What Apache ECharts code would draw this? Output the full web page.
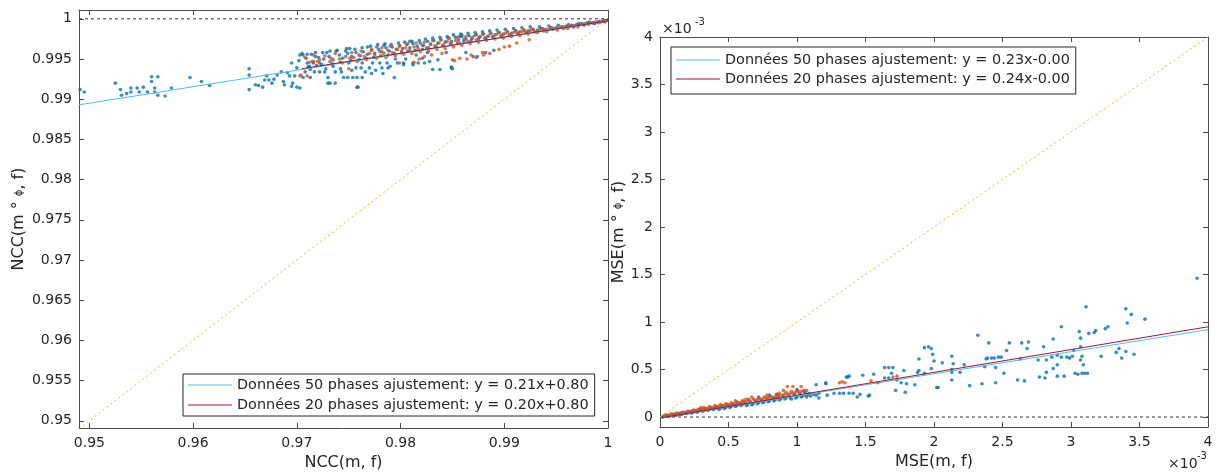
<!DOCTYPE html>
<html>
<head>
<meta charset="utf-8">
<script src="https://cdn.jsdelivr.net/npm/echarts@6/dist/echarts.min.js"></script>
<style>html,body{margin:0;padding:0;background:#fff}#c{width:1220px;height:472px}</style>
</head>
<body>
<div id="c"></div>
<script>
// ---------------- DATA ----------------
// Left panel: NCC(m, f) vs NCC(m ∘ φ, f)
const nccTicksX = [0.95, 0.96, 0.97, 0.98, 0.99, 1];
const nccTicksY = [0.95, 0.955, 0.96, 0.965, 0.97, 0.975, 0.98, 0.985, 0.99, 0.995, 1];
const ncc50 = [
[0.9491,0.9912],[0.9495,0.9909],[0.9525,0.9920],[0.9530,0.9912],[0.9531,0.9905],[0.9536,0.9907],[0.9540,0.9914],[0.9540,0.9909],[0.9546,0.9914],[0.9548,0.9909],[0.9552,0.9915],[0.9556,0.9909],[0.9560,0.9928],[0.9560,0.9922],[0.9563,0.9914],[0.9563,0.9909],[0.9566,0.9928],[0.9566,0.9905],[0.9573,0.9904],[0.9579,0.9914],[0.9597,0.9927],[0.9608,0.9922],[0.9616,0.9917],
[0.9654,0.9938],[0.9654,0.9930],[0.9654,0.9912],[0.9660,0.9918],[0.9663,0.9917],[0.9667,0.9915],[0.9669,0.9924],[0.9671,0.9929],[0.9673,0.9924],[0.9676,0.9920],[0.9678,0.9925],[0.9681,0.9930],[0.9685,0.9934],[0.9687,0.9922],[0.9688,0.9918],[0.9691,0.9933],[0.9693,0.9929],[0.9695,0.9945],[0.9696,0.9920],[0.9698,0.9929],[0.9700,0.9939],[0.9703,0.9955],[0.9703,0.9914],[0.9706,0.9955],[0.9710,0.9956],[0.9713,0.9937],[0.9714,0.9956],[0.9718,0.9958],
[0.9710,0.9945],[0.9716,0.9945],[0.9722,0.9945],[0.9725,0.9958],[0.9732,0.9960],[0.9738,0.9960],[0.9748,0.9963],[0.9751,0.9963],
[0.9708,0.9934],[0.9717,0.9934],[0.9722,0.9934],[0.9727,0.9934],[0.9737,0.9934],[0.9743,0.9934],
[0.9706,0.9927],[0.9713,0.9927],[0.9730,0.9927],[0.9745,0.9927],[0.9749,0.9927],[0.9754,0.9927],[0.9758,0.9927],[0.9763,0.9927],
[0.9730,0.9920],[0.9737,0.9920],[0.9695,0.9916],[0.9700,0.9915],[0.9759,0.9915],[0.9794,0.9927],
[0.9768,0.9965],[0.9778,0.9968],[0.9785,0.9969],[0.9809,0.9972],
[0.9750,0.9945],[0.9763,0.9945],[0.9773,0.9945],[0.9780,0.9945],[0.9787,0.9945],[0.9797,0.9945],[0.9803,0.9945],[0.9812,0.9945],[0.9817,0.9945],[0.9823,0.9945],
[0.9757,0.9939],[0.9762,0.9939],[0.9770,0.9939],[0.9782,0.9939],[0.9788,0.9939],
[0.9772,0.9932],[0.9783,0.9932],[0.9803,0.9943],[0.9812,0.9943],
[0.9821,0.9951],[0.9828,0.9947],[0.9831,0.9937],[0.9838,0.9937],[0.9849,0.9940],[0.9850,0.9938],[0.9836,0.9949],[0.9844,0.9958],[0.9863,0.9958],[0.9870,0.9953],[0.9874,0.9953],[0.9882,0.9958],[0.9890,0.9961],[0.9859,0.9980],[0.9857,0.9978],
[0.9732,0.9920],[0.9758,0.9915],[0.9849,0.9939],
[0.9711,0.9940],[0.9719,0.9942],[0.9728,0.9938],[0.9735,0.9941],[0.9742,0.9938],[0.9753,0.9936],[0.9766,0.9934],[0.9776,0.9936],[0.9790,0.9941],[0.9795,0.9950],[0.9805,0.9950],[0.9815,0.9955],[0.9826,0.9958],
[0.9702,0.9948],[0.9709,0.9951],[0.9715,0.9947],[0.9721,0.9952],[0.9726,0.9950],[0.9731,0.9953],[0.9735,0.9949],[0.9741,0.9955],[0.9744,0.9951],[0.9749,0.9957],[0.9753,0.9953],[0.9757,0.9958],[0.9761,0.9954],[0.9764,0.9959],[0.9768,0.9956],[0.9772,0.9961],[0.9775,0.9957],[0.9779,0.9962],[0.9782,0.9959],[0.9786,0.9964],[0.9789,0.9960],[0.9792,0.9965],[0.9796,0.9962],[0.9799,0.9966],[0.9802,0.9963],[0.9806,0.9968],[0.9809,0.9964],[0.9812,0.9969],[0.9816,0.9966],[0.9819,0.9970],[0.9822,0.9967],[0.9826,0.9972],[0.9829,0.9968],[0.9832,0.9973],[0.9836,0.9970],[0.9839,0.9974],[0.9843,0.9971],[0.9846,0.9976],[0.9849,0.9972],[0.9853,0.9977],[0.9856,0.9974],[0.9859,0.9978],[0.9863,0.9975],[0.9866,0.9979],[0.9869,0.9976],[0.9873,0.9980],[0.9876,0.9977],[0.9880,0.9981],[0.9884,0.9978],[0.9887,0.9982],[0.9891,0.9980],[0.9895,0.9983],[0.9899,0.9981],[0.9903,0.9984],[0.9907,0.9982],[0.9911,0.9985],[0.9915,0.9984],[0.9919,0.9986],[0.9923,0.9985],[0.9927,0.9987],[0.9932,0.9986],[0.9936,0.9988],[0.9940,0.9987],[0.9945,0.9989],[0.9950,0.9989],[0.9955,0.9990],[0.9960,0.9991],[0.9965,0.9992],[0.9970,0.9993],[0.9975,0.9994],[0.9980,0.9995],[0.9985,0.9995],[0.9990,0.9996],[0.9995,0.9997],[0.9999,0.9998],
[0.9705,0.9957],[0.9712,0.9941],[0.9718,0.9953],[0.9724,0.9943],[0.9729,0.9958],[0.9734,0.9944],[0.9739,0.9961],[0.9742,0.9946],[0.9747,0.9960],[0.9752,0.9948],[0.9756,0.9962],[0.9760,0.9949],[0.9763,0.9964],[0.9767,0.9951],[0.9771,0.9966],[0.9774,0.9952],[0.9777,0.9965],[0.9781,0.9954],[0.9784,0.9967],[0.9788,0.9955],[0.9791,0.9968],[0.9794,0.9957],[0.9798,0.9970],[0.9801,0.9958],[0.9804,0.9971],[0.9807,0.9960],[0.9811,0.9972],[0.9814,0.9961],[0.9818,0.9973],[0.9821,0.9962],[0.9824,0.9975],[0.9827,0.9964],[0.9831,0.9976],[0.9834,0.9966],[0.9838,0.9977],[0.9841,0.9967],[0.9845,0.9978],[0.9848,0.9969],[0.9851,0.9980],[0.9855,0.9970],[0.9858,0.9981],[0.9861,0.9972],[0.9865,0.9982],[0.9868,0.9973],[0.9872,0.9983],[0.9875,0.9975],[0.9879,0.9984],[0.9882,0.9976],[0.9886,0.9985],[0.9889,0.9978],[0.9893,0.9986],[0.9897,0.9979],[0.9901,0.9987],[0.9905,0.9980],[0.9909,0.9988],[0.9913,0.9982],[0.9917,0.9989],[0.9921,0.9983],[0.9925,0.9990],[0.9929,0.9984],[0.9934,0.9990],[0.9938,0.9985],[0.9943,0.9991],[0.9947,0.9987],[0.9952,0.9992],[0.9957,0.9988],[0.9962,0.9993],[0.9967,0.9990],[0.9972,0.9994],[0.9977,0.9992],[0.9982,0.9996],[0.9987,0.9994],[0.9992,0.9997],[0.9997,0.9996]
];
const ncc20 = [
[0.9703,0.9929],[0.9710,0.9929],[0.9704,0.9930],[0.9716,0.9947],[0.9720,0.9947],[0.9732,0.9947],[0.9750,0.9938],[0.9751,0.9951],[0.9799,0.9945],[0.9813,0.9946],[0.9850,0.9949],[0.9864,0.9950],[0.9879,0.9958],[0.9886,0.9957],[0.9900,0.9965],[0.9912,0.9970],[0.9924,0.9974],[0.9823,0.9953],[0.9840,0.9957],
[0.9852,0.9948],[0.9857,0.9951],[0.9868,0.9955],[0.9873,0.9952],[0.9880,0.9955],[0.9895,0.9962],[0.9905,0.9966],[0.9830,0.9955],[0.9818,0.9950],
[0.9712,0.9946],[0.9722,0.9949],[0.9733,0.9951],[0.9741,0.9950],[0.9747,0.9953],
[0.9755,0.9952],[0.9760,0.9955],[0.9765,0.9953],[0.9770,0.9957],[0.9775,0.9955],[0.9780,0.9959],[0.9784,0.9957],[0.9788,0.9961],[0.9792,0.9958],[0.9797,0.9962],[0.9801,0.9960],[0.9805,0.9964],[0.9809,0.9961],[0.9813,0.9965],[0.9817,0.9963],[0.9821,0.9967],[0.9825,0.9964],[0.9829,0.9969],[0.9833,0.9966],[0.9837,0.9970],[0.9841,0.9967],[0.9845,0.9972],[0.9849,0.9969],[0.9853,0.9973],[0.9857,0.9970],[0.9861,0.9975],[0.9865,0.9972],[0.9869,0.9976],[0.9873,0.9974],[0.9877,0.9978],[0.9881,0.9976],[0.9885,0.9979],[0.9889,0.9977],[0.9893,0.9981],[0.9897,0.9979],[0.9901,0.9982],[0.9905,0.9980],[0.9909,0.9983],[0.9913,0.9982],[0.9917,0.9984],[0.9921,0.9983],[0.9925,0.9985],[0.9930,0.9984],[0.9934,0.9986],[0.9938,0.9986],[0.9943,0.9987],[0.9948,0.9988],[0.9953,0.9989],[0.9958,0.9990],[0.9963,0.9991],[0.9968,0.9992],[0.9973,0.9993],[0.9978,0.9994],[0.9983,0.9995],[0.9988,0.9996],[0.9993,0.9996],[0.9997,0.9997],
[0.9708,0.9952],[0.9716,0.9955],[0.9727,0.9954],[0.9737,0.9957],[0.9744,0.9945],[0.9753,0.9958],[0.9758,0.9947],[0.9762,0.9960],[0.9767,0.9949],[0.9772,0.9962],[0.9777,0.9951],[0.9782,0.9964],[0.9786,0.9952],[0.9790,0.9966],[0.9795,0.9954],[0.9799,0.9967],[0.9803,0.9956],[0.9807,0.9969],[0.9811,0.9957],[0.9815,0.9970],[0.9819,0.9959],[0.9823,0.9971],[0.9827,0.9960],[0.9831,0.9973],[0.9835,0.9962],[0.9839,0.9974],[0.9843,0.9963],[0.9847,0.9976],[0.9851,0.9965],[0.9855,0.9977],[0.9859,0.9967],[0.9863,0.9978],[0.9867,0.9969],[0.9871,0.9979],[0.9875,0.9971],[0.9879,0.9981],[0.9883,0.9973],[0.9887,0.9982],[0.9891,0.9975],[0.9895,0.9983],[0.9899,0.9976],[0.9903,0.9984],[0.9907,0.9978],[0.9911,0.9985],[0.9915,0.9979],[0.9919,0.9986],[0.9923,0.9981],[0.9928,0.9987],[0.9932,0.9983],[0.9937,0.9988],[0.9941,0.9984],[0.9946,0.9989],[0.9951,0.9986],[0.9956,0.9990],[0.9961,0.9988],[0.9966,0.9991],[0.9971,0.9990],[0.9976,0.9993],[0.9981,0.9993],[0.9986,0.9995],[0.9991,0.9995],[0.9996,0.9997]
];
const nccFit50 = [[0.949,0.9893],[1.0,0.99975]];
const nccFit20 = [[0.9705,0.9938],[1.0,0.99975]];
const nccRef1 = [[0.949,1],[1,1]];
const nccIdentity = [[0.949,0.949],[1,1]];
const nccLegend = ['Données 50 phases ajustement: y = 0.21x+0.80', 'Données 20 phases ajustement: y = 0.20x+0.80'];

// Right panel: MSE(m, f) vs MSE(m ∘ φ, f), values in units of 1e-3
const mseTicks = [0, 0.5, 1, 1.5, 2, 2.5, 3, 3.5, 4];
const mse50 = [
[0.02,0.00],[0.04,0.01],[0.06,0.01],[0.08,0.02],[0.10,0.02],[0.12,0.02],[0.14,0.03],[0.16,0.03],[0.18,0.04],[0.20,0.04],[0.22,0.05],[0.24,0.05],[0.26,0.06],[0.28,0.06],[0.30,0.07],[0.32,0.07],[0.34,0.08],[0.36,0.08],[0.38,0.09],[0.40,0.09],[0.42,0.10],[0.44,0.09],[0.46,0.11],[0.48,0.10],[0.50,0.12],[0.52,0.11],[0.54,0.13],[0.56,0.12],[0.58,0.14],[0.60,0.13],[0.62,0.15],[0.64,0.13],[0.66,0.16],[0.68,0.14],[0.70,0.17],[0.72,0.15],[0.74,0.18],[0.76,0.16],[0.78,0.19],[0.80,0.17],[0.82,0.20],[0.84,0.18],[0.86,0.21],[0.88,0.19],[0.90,0.22],[0.92,0.20],[0.94,0.23],[0.96,0.19],[0.98,0.24],[1.00,0.21],[1.02,0.25],[1.04,0.22],[1.06,0.26],[1.08,0.23],[1.10,0.22],[1.12,0.24],
[0.03,0.01],[0.05,0.02],[0.07,0.01],[0.09,0.03],[0.11,0.02],[0.13,0.04],[0.15,0.03],[0.17,0.05],[0.19,0.04],[0.21,0.06],[0.23,0.04],[0.25,0.07],[0.27,0.05],[0.29,0.08],[0.31,0.06],[0.33,0.09],[0.35,0.07],[0.37,0.10],[0.39,0.08],[0.41,0.11],[0.43,0.08],[0.45,0.12],[0.47,0.09],[0.49,0.13],[0.51,0.10],[0.53,0.14],[0.55,0.11],[0.57,0.15],[0.59,0.12],[0.61,0.16],[0.63,0.12],[0.67,0.13],[0.71,0.14],[0.75,0.15],[0.79,0.16],[0.83,0.17],[0.87,0.18],[0.91,0.19],[0.95,0.20],[0.99,0.20],[1.03,0.21],[1.07,0.21],[1.09,0.25],[1.05,0.27],[1.00,0.29],
[0.65,0.18],[0.72,0.21],[0.80,0.23],[0.85,0.24],
[1.14,0.34],[1.21,0.36],[1.37,0.42],[1.16,0.20],[1.22,0.23],[1.27,0.25],[1.31,0.25],[1.34,0.25],[1.38,0.25],[1.41,0.25],[1.44,0.21],[1.53,0.23],[1.14,0.23],[1.16,0.25],[1.21,0.35],
[1.36,0.42],[1.38,0.43],[1.46,0.24],[1.48,0.44],[1.52,0.22],[1.56,0.45],[1.59,0.36],[1.64,0.52],[1.67,0.52],[1.70,0.52],[1.64,0.41],[1.67,0.41],[1.69,0.46],[1.72,0.28],[1.73,0.39],[1.76,0.36],[1.78,0.49],[1.79,0.26],[1.80,0.35],[1.86,0.34],[1.88,0.47],[1.89,0.61],[1.89,0.49],[1.93,0.73],[1.93,0.46],[1.96,0.74],[1.98,0.72],[1.98,0.51],[1.99,0.66],[2.00,0.59],[2.02,0.31],[2.03,0.31],[2.06,0.57],[2.13,0.64],[2.13,0.47],[2.13,0.50],[2.13,0.39],[2.14,0.56],[2.19,0.47],[2.22,0.55],[2.26,0.33],[2.32,0.86],[2.35,0.35],[2.37,0.53],[2.38,0.61],[2.39,0.62],[2.40,0.78],[2.42,0.62],[2.44,0.62],[2.45,0.52],[2.45,0.36],[2.47,0.63],[2.49,0.63],[2.51,0.46],[2.53,0.70],[2.55,0.78],[2.61,0.39],[2.63,0.61],[2.64,0.78],[2.66,0.38],[2.68,0.72],[2.69,0.79],[2.76,0.60],[2.77,0.42],[2.80,0.74],[2.81,0.41],[2.82,0.60],[2.82,0.47],[2.86,0.63],[2.87,0.82],[2.87,0.51],[2.90,0.65],[2.90,0.55],[2.90,0.43],[2.93,0.95],[2.93,0.63],[2.95,0.43],[2.97,0.63],[2.99,0.62],[3.01,0.64],[3.02,0.70],[3.03,0.46],[3.05,0.45],[3.06,0.90],[3.07,0.83],[3.07,0.74],[3.07,0.60],[3.08,0.64],[3.08,0.46],[3.09,0.55],[3.10,0.46],[3.11,1.16],[3.12,0.46],[3.13,0.88],[3.17,0.89],[3.18,0.91],[3.22,0.64],[3.25,0.93],[3.27,0.95],[3.33,0.68],[3.35,0.72],[3.37,0.62],[3.40,1.14],[3.40,0.69],[3.41,0.99],[3.44,1.08],[3.46,0.66],[3.54,1.03],[3.92,1.46]
];
const mse20 = [
[0.03,0.01],[0.05,0.01],[0.07,0.02],[0.09,0.02],[0.11,0.03],[0.13,0.03],[0.15,0.04],[0.17,0.04],[0.19,0.05],[0.21,0.05],[0.23,0.06],[0.25,0.06],[0.27,0.07],[0.29,0.08],[0.31,0.08],[0.33,0.09],[0.35,0.09],[0.37,0.10],[0.39,0.10],[0.41,0.11],[0.43,0.11],[0.45,0.12],[0.47,0.12],[0.49,0.13],[0.51,0.13],[0.53,0.14],[0.55,0.14],[0.57,0.15],[0.59,0.15],[0.61,0.16],[0.63,0.16],[0.65,0.17],[0.67,0.21],[0.69,0.18],[0.71,0.18],[0.73,0.19],[0.75,0.19],[0.77,0.20],[0.79,0.20],[0.81,0.21],[0.83,0.21],[0.85,0.22],[0.87,0.22],[0.89,0.23],[0.90,0.28],[0.91,0.24],[0.93,0.32],[0.93,0.24],[0.95,0.25],[0.97,0.32],[0.97,0.25],[0.99,0.26],[1.01,0.27],[1.03,0.32],[1.03,0.27],[1.05,0.28],[1.07,0.28],[1.06,0.23],
[0.04,0.02],[0.08,0.03],[0.12,0.04],[0.16,0.05],[0.20,0.06],[0.24,0.07],[0.28,0.08],[0.32,0.10],[0.36,0.11],[0.44,0.13],[0.48,0.14],[0.52,0.15],[0.56,0.16],[0.60,0.17],[0.64,0.19],[0.68,0.19],[0.72,0.20],[0.76,0.21],[0.80,0.22],[0.86,0.24],[0.92,0.26],[0.96,0.27],[1.00,0.28],
[0.30,0.10],[0.40,0.12],[0.55,0.17],[0.62,0.18],[0.78,0.23],[0.84,0.20],[0.87,0.25],
[1.31,0.36],[1.33,0.37],[1.35,0.36],[1.54,0.38],[1.70,0.42],[1.73,0.43]
];
const mseFit50 = [[0,-0.01],[4,0.92]];
const mseFit20 = [[0,-0.01],[4,0.95]];
const mseRef0 = [[0,0],[4,0]];
const mseIdentity = [[0,0],[4,4]];
const mseLegend = ['Données 50 phases ajustement: y = 0.23x-0.00', 'Données 20 phases ajustement: y = 0.24x-0.00'];

// ---------------- STYLE ----------------
const FONT = "'DejaVu Sans', sans-serif";
const TXT = '#262626';
const AX = '#4d4d4d';
const C50 = '#0072BD', C20 = '#D95319', FIT50 = '#4DBEEE', FIT20 = '#A2142F', IDC = '#EDB120';

function fmt(v) { return String(+v.toFixed(4)); }

function axis(opts) {
  const o = {
    type: 'value', gridIndex: opts.grid, position: opts.position,
    min: opts.min, max: opts.max,
    axisLine: { show: true, onZero: false, lineStyle: { color: AX, width: 1 } },
    axisTick: { show: true, inside: true, length: 5, customValues: opts.ticks, lineStyle: { color: AX, width: 1 } },
    axisLabel: { show: !!opts.labels, customValues: opts.ticks, formatter: fmt, color: TXT, fontFamily: FONT, fontSize: 14, margin: opts.margin || 8 },
    splitLine: { show: false }
  };
  if (opts.name) {
    o.name = opts.name; o.nameLocation = 'middle'; o.nameGap = opts.nameGap;
    o.nameTextStyle = { color: TXT, fontFamily: FONT, fontSize: 16, rich: { s: { fontSize: 10, color: TXT, fontFamily: FONT } } };
  }
  return o;
}

function scatter(data, color, xi, yi) {
  return { type: 'scatter', data: data, xAxisIndex: xi, yAxisIndex: yi, symbol: 'circle', symbolSize: 3.6,
    itemStyle: { color: color }, silent: true };
}
function line(data, color, xi, yi, type, name, width) {
  const s = { type: 'line', data: data, xAxisIndex: xi, yAxisIndex: yi, symbol: 'none', showSymbol: false,
    lineStyle: { color: color, width: width || 1, type: type || 'solid' }, itemStyle: { color: color }, silent: true };
  if (name) s.name = name;
  return s;
}

const legendCommon = {
  orient: 'vertical', itemWidth: 44, itemHeight: 14, selectedMode: false,
  icon: 'path://M0,0 L44,0 L44,1.2 L0,1.2 Z',
  borderColor: '#262626', borderWidth: 1, backgroundColor: '#fff', borderRadius: 0,
  textStyle: { color: TXT, fontFamily: FONT, fontSize: 14.4, lineHeight: 16 }
};

const option = {
  animation: false,
  backgroundColor: '#fff',
  grid: [
    { left: 79, top: 10, width: 529, height: 418, outerBoundsMode: 'none', containLabel: false },
    { left: 660, top: 37, width: 548, height: 390, outerBoundsMode: 'none', containLabel: false }
  ],
  xAxis: [
    axis({ grid: 0, position: 'bottom', min: 0.949, max: 1.0, ticks: nccTicksX, labels: true, name: 'NCC(m, f)', nameGap: 25 }),
    axis({ grid: 0, position: 'top', min: 0.949, max: 1.0, ticks: nccTicksX }),
    axis({ grid: 1, position: 'bottom', min: 0, max: 4, ticks: mseTicks, labels: true, name: 'MSE(m, f)', nameGap: 25 }),
    axis({ grid: 1, position: 'top', min: 0, max: 4, ticks: mseTicks })
  ],
  yAxis: [
    axis({ grid: 0, position: 'left', min: 0.9491, max: 1.0011, ticks: nccTicksY, labels: true, margin: 7, name: 'NCC(m ° {s|ϕ}, f)', nameGap: 52 }),
    axis({ grid: 0, position: 'right', min: 0.9491, max: 1.0011, ticks: nccTicksY }),
    axis({ grid: 1, position: 'left', min: -0.105, max: 4, ticks: mseTicks, labels: true, margin: 7, name: 'MSE(m ° {s|ϕ}, f)', nameGap: 25 }),
    axis({ grid: 1, position: 'right', min: -0.105, max: 4, ticks: mseTicks })
  ],
  legend: [
    Object.assign({}, legendCommon, { data: nccLegend, left: 183, top: 374, padding: [3, 6, 3, 5], itemGap: 4 }),
    Object.assign({}, legendCommon, { data: mseLegend, left: 671, top: 47, padding: [5, 6, 7, 5], itemGap: 3 })
  ],
  series: [
    scatter(ncc50, C50, 0, 0),
    scatter(ncc20, C20, 0, 0),
    line(nccRef1, '#333333', 0, 0, [3, 3]),
    line(nccIdentity, IDC, 0, 0, [2, 3]),
    line(nccFit50, FIT50, 0, 0, 'solid', nccLegend[0]),
    line(nccFit20, FIT20, 0, 0, 'solid', nccLegend[1]),
    scatter(mse50, C50, 2, 2),
    scatter(mse20, C20, 2, 2),
    line(mseRef0, '#333333', 2, 2, [3, 3]),
    line(mseIdentity, IDC, 2, 2, [2, 3]),
    line(mseFit50, FIT50, 2, 2, 'solid', mseLegend[0]),
    line(mseFit20, FIT20, 2, 2, 'solid', mseLegend[1])
  ],
  graphic: [
    { type: 'text', x: 662, y: 22, style: { text: '×10', font: "14px 'DejaVu Sans'", fill: TXT } },
    { type: 'text', x: 695, y: 17, style: { text: '-3', font: "10px 'DejaVu Sans'", fill: TXT } },
    { type: 'text', x: 1168, y: 457, style: { text: '×10', font: "14px 'DejaVu Sans'", fill: TXT } },
    { type: 'text', x: 1197, y: 451, style: { text: '-3', font: "10px 'DejaVu Sans'", fill: TXT } }
  ]
};

const chart = echarts.init(document.getElementById('c'), null, { renderer: 'canvas' });
chart.setOption(option);
</script>
</body>
</html>
